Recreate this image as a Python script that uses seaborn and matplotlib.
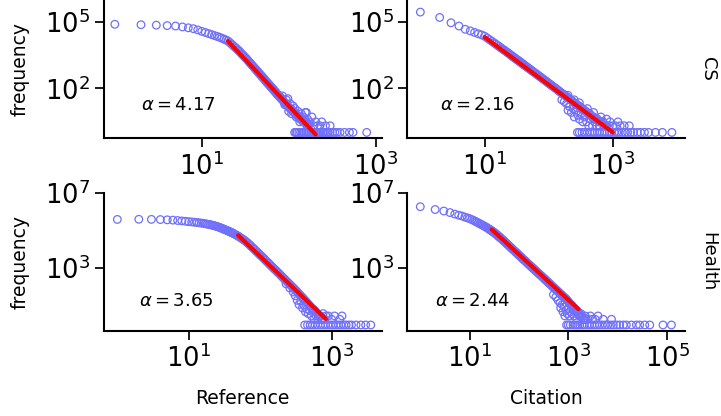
import numpy as np
import pandas as pd
import matplotlib
matplotlib.use("Agg")
import matplotlib.pyplot as plt
import seaborn as sns

# ---------------- data ----------------
col_labels = ["Reference", "Citation"]
row_labels = ["CS", "Health"]
alphas = [[4.17, 2.16], [3.65, 2.44]]

# CS / Reference
cs_ref_x = [1, 2, 3, 4, 5, 6, 7, 8, 9, 10,
            11, 12, 13, 14, 15, 16, 17, 18, 19, 20,
            21, 22, 23, 24, 25, 26, 27, 28, 29, 30,
            32, 34, 36, 38, 40, 42, 44, 46, 48, 50,
            53, 56, 59, 62, 65, 68, 72, 76, 80, 84,
            88, 92, 96, 100, 105, 110, 115, 120, 126, 132,
            139, 146, 154, 162, 170,
            85, 90, 94, 98, 100, 104, 108, 112, 118, 122,
            128, 134, 140, 148, 155, 160, 165, 175, 185, 195,
            205, 215, 229, 240, 250, 265, 280, 300,
            117, 121, 125, 131, 137, 143, 150, 157, 165, 172,
            180, 188, 197, 206, 215, 225, 235, 246, 258, 270,
            285, 300, 320, 340, 360, 390, 440, 500, 550, 790]
cs_ref_y = [79400, 75900, 72400, 69200, 66100, 60300, 55000, 50100, 44200, 38000,
            33700, 30000, 27000, 24500, 22300, 20600, 18600, 16900, 15300, 14000,
            11800, 10000, 8500, 7400, 6400, 5500, 4800, 4100, 3550, 3100,
            2380, 1820, 1400, 1100, 870, 700, 570, 465, 385, 320,
            245, 190, 151, 121, 98, 79, 62, 48, 39, 31,
            25, 20, 17, 14, 12, 10, 8, 7, 6, 5,
            4, 3, 3, 2, 2,
            45, 18, 30, 34, 9, 20, 7, 16, 12, 5,
            9, 3, 7, 5, 8, 8, 4, 3, 5, 2,
            3, 2, 2, 3, 1, 2, 1, 2,
            1, 1, 1, 1, 1, 1, 1, 1, 1, 1,
            1, 1, 1, 1, 1, 1, 1, 1, 1, 1,
            1, 1, 1, 1, 1, 1, 1, 1, 1, 1]
cs_ref_dense_x = [31, 33, 35, 37, 39, 41, 43, 45, 47, 49,
                  51, 52, 54, 55, 57, 58, 60, 61, 63, 64,
                  66, 67, 69, 70, 71, 73, 74, 75, 77, 78,
                  79, 81, 82, 83, 86, 90, 94, 98, 102, 107,
                  112, 117, 123, 129, 135, 142, 150, 158, 166]
cs_ref_dense_y = [2720, 2080, 1600, 1240, 980, 780, 630, 515, 423, 350,
                  295, 270, 220, 205, 175, 163, 141, 131, 112, 105,
                  92, 86, 75, 70, 66, 58, 54, 51, 45, 43,
                  41, 37, 35, 33, 28, 22, 18, 15, 13, 11,
                  9, 8, 6, 5, 4, 4, 3, 3, 2]

# CS / Citation
cs_cit_x = [1, 2, 3, 4, 5, 6, 7, 8, 9, 10,
            11, 12, 13, 14, 15, 16, 17, 18, 19, 20,
            22, 24, 26, 28, 30, 33, 36, 39, 42, 46,
            50, 55, 60, 66, 72, 79, 87, 95, 104, 114,
            125, 137, 150, 165, 180, 198, 217, 238, 261, 286,
            314, 344, 378, 415, 455, 500, 550, 600, 660, 730,
            800, 880,
            160, 175, 190, 200, 210, 225, 240, 250, 270, 285,
            300, 320, 340, 360, 390, 420, 450, 480, 520, 560,
            620, 700, 200, 250, 300, 400, 500, 650, 800, 900,
            1000, 1100, 1200, 1300, 1500, 1800,
            280, 300, 330, 360, 400, 440, 480, 520, 570, 620,
            680, 740, 810, 880, 960, 1050, 1150, 1250, 1400, 1550,
            1700, 1900, 2100, 2400, 2700, 3100, 3600, 4600, 5900, 8300]
cs_cit_y = [283000, 162000, 93000, 66000, 47000, 39800, 33900, 29500, 26300, 22900,
            19000, 15800, 13500, 11500, 10000, 8700, 7760, 6760, 6030, 5500,
            4470, 3720, 3090, 2630, 2290, 1860, 1550, 1290, 1100, 910,
            760, 617, 513, 417, 347, 282, 229, 190, 155, 126,
            105, 85, 69, 56, 47, 38, 31, 25, 20, 17,
            14, 11, 9, 7, 6, 5, 4, 3, 3, 2,
            2, 2,
            30, 25, 20, 10, 15, 8, 12, 5, 9, 6,
            4, 7, 3, 5, 3, 2, 4, 2, 3, 2,
            2, 3, 48, 30, 22, 12, 8, 5, 4, 3,
            2, 2, 3, 2, 2, 2,
            1, 1, 1, 1, 1, 1, 1, 1, 1, 1,
            1, 1, 1, 1, 1, 1, 1, 1, 1, 1,
            1, 1, 1, 1, 1, 1, 1, 1, 1, 1]
cs_cit_dense_x = [21, 23, 25, 27, 29, 31, 32, 34, 35, 37,
                  38, 40, 41, 44, 48, 52, 57, 63, 69, 75,
                  83, 91, 99, 109, 119, 131, 143, 157, 172, 189,
                  207, 227, 249, 273, 300, 329, 361, 396, 435, 477,
                  525, 575, 630, 695, 765]
cs_cit_dense_y = [4950, 4080, 3390, 2850, 2450, 2130, 1990, 1750, 1650, 1460,
                  1370, 1220, 1160, 1000, 830, 700, 570, 465, 380, 320,
                  255, 210, 172, 140, 115, 95, 77, 62, 51, 42,
                  34, 28, 22, 18, 15, 12, 10, 8, 7, 5,
                  4, 4, 3, 3, 2]

# Health / Reference
health_ref_x = [1, 2, 3, 4, 5, 6, 7, 8, 9, 10,
                11, 12, 13, 14, 15, 16, 17, 18, 19, 20,
                22, 24, 26, 28, 30, 33, 36, 39, 42, 46,
                50, 55, 60, 66, 72, 79, 87, 95, 104, 114,
                125, 137, 150, 165, 180, 198, 217, 238, 261, 286,
                314, 344, 378, 415, 455, 500, 550, 600, 660, 730,
                800,
                230, 260, 290, 310, 330, 350, 370, 390, 410, 430,
                450, 470, 490, 520, 540, 570, 610, 640, 700, 760,
                830, 900, 1000, 1100, 1300, 1400,
                420, 460, 500, 540, 590, 640, 700, 760, 820, 890,
                970, 1050, 1150, 1250, 1350, 1480, 1600, 1750, 1900, 2200,
                2570, 3000, 3540]
health_ref_y = [378000, 385000, 380000, 372000, 360000, 347000, 331000, 316000, 302000, 288000,
                279000, 269000, 260000, 251000, 243000, 234000, 224000, 214000, 207000, 200000,
                182000, 166000, 151000, 135000, 122000, 105000, 90000, 79000, 69000, 57500,
                48000, 37600, 30200, 22400, 16600, 12000, 8300, 6000, 4360, 3090,
                2190, 1550, 1100, 776, 562, 389, 275, 195, 138, 98,
                68, 47, 32, 22, 15, 10, 7, 5, 3, 2,
                2,
                150, 90, 55, 35, 20, 12, 18, 8, 11, 5,
                7, 4, 6, 3, 5, 2, 3, 2, 3, 4,
                3, 3, 2, 3, 2, 3,
                1, 1, 1, 1, 1, 1, 1, 1, 1, 1,
                1, 1, 1, 1, 1, 1, 1, 1, 1, 1,
                1, 1, 1]
health_ref_dense_x = [21, 23, 25, 27, 29, 31, 32, 34, 35, 37,
                      38, 40, 41, 44, 48, 52, 57, 63, 69, 75,
                      83, 91, 99, 109, 119, 131, 143, 157, 172, 189,
                      207, 227, 249, 273, 300, 329, 361, 396, 435, 477,
                      525, 575, 630, 695, 765]
health_ref_dense_y = [191000, 174000, 158000, 143000, 128000, 116000, 110000, 100000, 95000, 87000,
                      83000, 76000, 72000, 63000, 52500, 43000, 34000, 26000, 19300, 14100,
                      10000, 7100, 5100, 3700, 2600, 1840, 1300, 920, 660, 468,
                      327, 232, 164, 116, 82, 57, 39, 27, 18, 12,
                      8, 6, 4, 3, 2]

# Health / Citation
health_cit_x = [1, 2, 3, 4, 5, 6, 7, 8, 9, 10,
                11, 12, 13, 14, 15, 16, 17, 18, 19, 20,
                22, 24, 26, 28, 30, 33, 36, 39, 42, 46,
                50, 55, 60, 66, 72, 79, 87, 95, 104, 114,
                125, 137, 150, 165, 180, 198, 217, 238, 261, 286,
                314, 344, 378, 415, 455, 500, 550, 600, 660, 730,
                800, 880, 970, 1070, 1180, 1300, 1430, 1570, 1730, 1900,
                2100, 2300,
                500, 560, 620, 680, 700, 750, 780, 820, 850, 900,
                950, 1000, 1050, 1100, 1200, 1300, 1400, 1500, 1650, 1800,
                2000, 2200, 2500, 2800, 3100, 3500, 4000, 5100, 7500,
                920, 1000, 1100, 1250, 1400, 1550, 1700, 1900, 2100, 2400,
                2700, 3000, 3400, 3800, 4300, 4900, 5600, 6300, 7200, 8200,
                9500, 11000, 13000, 15000, 19000, 24000, 28000, 35500, 44700, 83000,
                123000]
health_cit_y = [1780000, 1260000, 1050000, 870000, 724000, 631000, 575000, 501000, 457000, 417000,
                372000, 335000, 302000, 272000, 248000, 226000, 208000, 191000, 178000, 165000,
                143000, 123000, 108000, 94400, 83200, 69200, 57500, 47900, 40700, 32700,
                26900, 21400, 17200, 13500, 11000, 8700, 6900, 5560, 4470, 3550,
                2820, 2290, 1820, 1450, 1170, 933, 750, 596, 479, 385,
                305, 245, 195, 155, 123, 99, 78, 63, 50, 39,
                31, 25, 19, 14, 11, 8, 6, 5, 3, 3,
                2, 2,
                40, 30, 20, 15, 8, 12, 5, 9, 3, 6,
                4, 7, 3, 5, 4, 3, 5, 2, 3, 4,
                2, 3, 2, 3, 2, 2, 3, 2, 2,
                1, 1, 1, 1, 1, 1, 1, 1, 1, 1,
                1, 1, 1, 1, 1, 1, 1, 1, 1, 1,
                1, 1, 1, 1, 1, 1, 1, 1, 1, 1,
                1]
health_cit_dense_x = [21, 23, 25, 27, 29, 31, 32, 34, 35, 37,
                      38, 40, 41, 44, 48, 52, 57, 63, 69, 75,
                      83, 91, 99, 109, 119, 131, 143, 157, 172, 189,
                      207, 227, 249, 273, 300, 329, 361, 396, 435, 477,
                      525, 575, 630, 695, 765, 840, 925, 1020, 1125, 1240,
                      1365, 1500, 1650, 1815, 2000, 2200]
health_cit_dense_y = [154000, 133000, 115000, 101000, 88600, 78000, 73000, 65000, 61000, 54000,
                      51000, 45000, 43000, 36500, 29700, 24000, 19200, 15200, 12200, 9800,
                      7800, 6200, 5000, 3990, 3160, 2540, 2040, 1620, 1300, 1040,
                      836, 670, 535, 430, 345, 275, 220, 175, 140, 110,
                      88, 70, 56, 44, 35, 28, 22, 16, 12, 9,
                      7, 5, 4, 3, 2, 2]

# fitted power-law segments (start, end) per panel
fit_x = [[(20, 204), (10, 1000)], [(49, 830), (28, 1600)]]
fit_y = [[(13800, 0.81), (20900, 1.0)], [(55000, 2.1), (112000, 6.9)]]

# axis limits and ticks
x_limits = [[(0.75, 1170), (0.63, 13300)], [(0.65, 5000), (0.55, 232000)]]
y_limits = [(0.53, 1e6), (0.48, 1e7)]
x_ticks = [[[1e1, 1e3], [1e1, 1e3]], [[1e1, 1e3], [1e1, 1e3, 1e5]]]
y_ticks = [[1e2, 1e5], [1e3, 1e7]]

panel_x = [[cs_ref_x + cs_ref_dense_x, cs_cit_x + cs_cit_dense_x],
           [health_ref_x + health_ref_dense_x, health_cit_x + health_cit_dense_x]]
panel_y = [[cs_ref_y + cs_ref_dense_y, cs_cit_y + cs_cit_dense_y],
           [health_ref_y + health_ref_dense_y, health_cit_y + health_cit_dense_y]]

# ---------------- styling ----------------
sns.set_style("ticks")
plt.rcParams["font.family"] = ["DejaVu Sans"]
for key in ["text.color", "axes.labelcolor", "xtick.color", "ytick.color",
            "axes.edgecolor"]:
    plt.rcParams[key] = "black"
point_color = "#7070fa"

fig, axes = plt.subplots(2, 2, figsize=(7.21, 4.16), dpi=100)
fig.subplots_adjust(left=0.1442, right=0.9501, top=1.0, bottom=0.2043,
                    wspace=0.0935, hspace=0.39)

for r in range(2):
    for c in range(2):
        ax = axes[r, c]
        ax.set_xscale("log")
        ax.set_yscale("log")
        df = pd.DataFrame({"x": panel_x[r][c], "y": panel_y[r][c]})
        sns.scatterplot(data=df, x="x", y="y", ax=ax, marker="o", s=30,
                        facecolor="none", edgecolor=point_color,
                        linewidth=0.9, zorder=2)
        fdf = pd.DataFrame({"x": list(fit_x[r][c]), "y": list(fit_y[r][c])})
        sns.lineplot(data=fdf, x="x", y="y", ax=ax, color="red",
                     linewidth=3, zorder=3)
        ax.set_xlim(*x_limits[r][c])
        ax.set_ylim(*y_limits[r])
        ax.set_xticks(x_ticks[r][c])
        ax.set_yticks(y_ticks[r])
        ax.minorticks_off()
        ax.set_xlabel("")
        ax.set_ylabel("")
        ax.text(2, 10, r"$\alpha = %.2f$" % alphas[r][c], fontsize=13,
                color="black")
        ax.tick_params(axis="both", which="major", labelsize=18.5,
                       length=6.5, width=1.25, pad=3.5, colors="black")
        for sp in ["left", "bottom"]:
            ax.spines[sp].set_linewidth(1.5)
            ax.spines[sp].set_color("black")
        if c == 0:
            ax.set_ylabel("frequency", fontsize=13.5, labelpad=11)
        if r == 1:
            ax.set_xlabel(col_labels[c], fontsize=13.5, labelpad=11)
        if c == 1:
            ax.text(1.05, 0.5, row_labels[r], transform=ax.transAxes,
                    rotation=270, ha="left", va="center", fontsize=13)

sns.despine(fig=fig)
fig.savefig("out.png", dpi=100)
